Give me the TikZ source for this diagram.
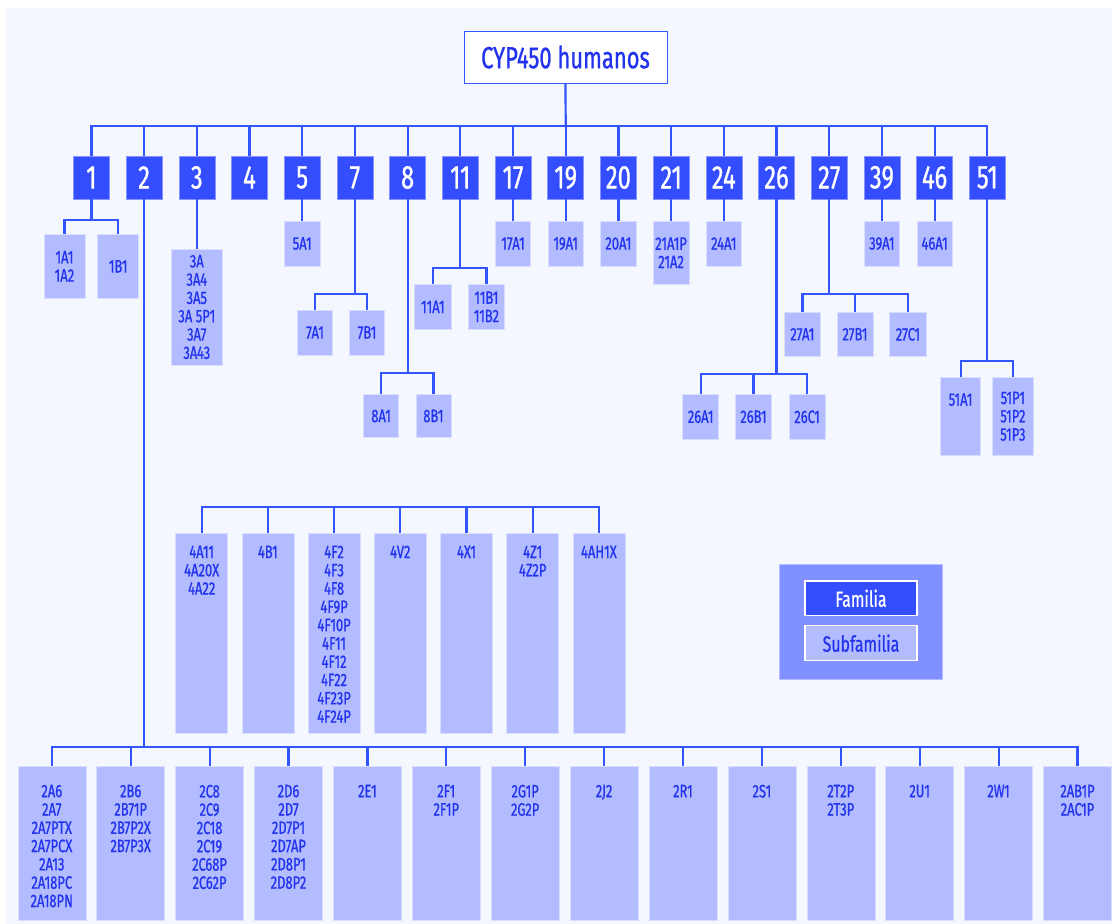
\documentclass[tikz,border=0pt]{standalone}
\usepackage{fontspec}
\setmainfont{Fira Sans}[FakeStretch=0.72, FakeBold=0.8]
\definecolor{pagebg}{RGB}{244,247,254}
\definecolor{famblue}{RGB}{51,77,255}
\definecolor{subblue}{RGB}{178,188,255}
\definecolor{linkblue}{RGB}{51,85,255}
\definecolor{txtblue}{RGB}{34,51,238}
\definecolor{legbg}{RGB}{128,145,255}
\newcommand{\colbox}[4]{\parbox[t][#2][t]{#1}{\centering\vspace*{#3}#4}}

\begin{document}
\begin{tikzpicture}[x=1pt, y=-1pt,
  link/.style={draw=linkblue, line width=2.2pt},
  fam/.style={fill=famblue, draw=famblue!60!white, line width=0.6pt, text=white,
    font=\fontsize{33}{33}\selectfont, minimum width=36pt, minimum height=43pt, inner sep=0pt},
  sub/.style={fill=subblue, draw=subblue!50!white, line width=0.6pt, text=txtblue,
    font=\fontsize{18}{18.3}\selectfont, align=center, inner sep=0pt},
  col/.style={sub, anchor=north}]
  \useasboundingbox (0,0) rectangle (1112,924);
  \fill[white] (0,0) rectangle (1112,924);
  \fill[pagebg] (6,8) rectangle (1112,924);

  % raiz y familias
  \node[draw=linkblue, line width=1pt, fill=white, text=txtblue, font=\fontsize{30.5}{30}\selectfont,
    minimum width=203pt, minimum height=52pt, inner sep=0pt] (root) at (565.5,57) {CYP450 humanos};
  \foreach \n [count=\i from 0] in {1,2,3,4,5,7,8,11,17,19,20,21,24,26,27,39,46,51}
    \node[fam] (f\n) at ({91.4+52.7*\i},177.5) {\n};
  \coordinate (bus) at (565.7,125.7);
  \draw[link] (root.south) -- (bus);
  \draw[link] (f1.north) |- (bus) -| (f51.north);
  \foreach \n in {2,3,4,5,7,8,11,17,19,20,21,24,26,27,39,46}
    \draw[link] (f\n.north) -- (f\n.north |- bus);

  % subfamilias simples
  \foreach \n in {5,17,19,20,24,39,46} {
    \node[sub, minimum width=35.5pt, minimum height=45pt] (s\n) at (f\n |- 0,243.5) {\n A1};
    \draw[link] (f\n.south) -- (s\n.north);
  }
  \node[sub, minimum width=36.4pt, minimum height=63.3pt] (s21) at (f21 |- 0,252.7) {21A1P\\21A2};
  \draw[link] (f21.south) -- (s21.north);
  \node[sub, minimum width=51pt, minimum height=116pt] (s3A) at (f3 |- 0,307) {3A\\3A4\\3A5\\3A 5P1\\3A7\\3A43};
  \draw[link] (f3.south) -- (s3A.north);

  % familia 1
  \node[sub, minimum width=41pt, minimum height=64pt] (s1A) at (64.5,266.3) {1A1\\1A2};
  \node[sub, minimum width=41pt, minimum height=64pt] (s1B) at (118.2,266.3) {1B1};
  \coordinate (j1) at (f1 |- 0,220);
  \draw[link] (f1.south) -- (j1);
  \draw[link] (s1A.north) |- (j1) -| (s1B.north);

  % familia 7
  \node[sub, minimum width=35pt, minimum height=45pt] (s7A) at (315,332.5) {7A1};
  \node[sub, minimum width=35pt, minimum height=45pt] (s7B) at (367,332.5) {7B1};
  \coordinate (j7) at (f7 |- 0,293.7);
  \draw[link] (f7.south) -- (j7);
  \draw[link] (s7A.north) |- (j7) -| (s7B.north);

  % familia 8
  \node[sub, minimum width=35pt, minimum height=43.4pt] (s8A) at (381.1,416) {8A1};
  \node[sub, minimum width=35pt, minimum height=43.4pt] (s8B) at (433.4,416) {8B1};
  \coordinate (j8) at (f8 |- 0,372.7);
  \draw[link] (f8.south) -- (j8);
  \draw[link] (s8A.north) |- (j8) -| (s8B.north);

  % familia 11
  \node[sub, minimum width=37pt, minimum height=45pt] (s11A) at (432.9,306.8) {11A1};
  \node[sub, minimum width=36.4pt, minimum height=45pt] (s11B) at (486.4,306.8) {11B1\\11B2};
  \coordinate (j11) at (f11 |- 0,268.3);
  \draw[link] (f11.south) -- (j11);
  \draw[link] (s11A.north) |- (j11) -| (s11B.north);

  % familia 26
  \node[sub, minimum width=36pt, minimum height=45pt] (s26A) at (700.7,416.8) {26A1};
  \node[sub, minimum width=36pt, minimum height=45pt] (s26B) at (753.5,416.8) {26B1};
  \node[sub, minimum width=36pt, minimum height=45pt] (s26C) at (807.1,416.8) {26C1};
  \coordinate (j26) at (f26 |- 0,374);
  \draw[link] (f26.south) -- (j26);
  \draw[link] (s26A.north) |- (j26) -| (s26C.north);
  \draw[link] (s26B.north) -- (s26B.north |- j26);

  % familia 27
  \node[sub, minimum width=36pt, minimum height=44.7pt] (s27A) at (802.4,334.3) {27A1};
  \node[sub, minimum width=36pt, minimum height=44.7pt] (s27B) at (855,334.3) {27B1};
  \node[sub, minimum width=36.5pt, minimum height=44.7pt] (s27C) at (907.9,334.3) {27C1};
  \coordinate (j27) at (f27 |- 0,293.7);
  \draw[link] (f27.south) -- (j27);
  \draw[link] (s27A.north) |- (j27) -| (s27C.north);
  \draw[link] (s27B.north) -- (s27B.north |- j27);

  % familia 51
  \node[col] (s51A) at (960.6,377.3) {\colbox{40.3pt}{77.7pt}{15.7pt}{51A1}};
  \node[sub, minimum width=40.7pt, minimum height=77.7pt] (s51P) at (1012.9,416.2) {51P1\\51P2\\51P3};
  \coordinate (j51) at (f51 |- 0,361);
  \draw[link] (f51.south) -- (j51);
  \draw[link] (s51A.north) |- (j51) -| (s51P.north);

  % grupo 4
  \foreach \nm/\txt [count=\i from 0] in {4A/{4A11\\4A20X\\4A22}, 4B/4B1,
      4F/{4F2\\4F3\\4F8\\4F9P\\4F10P\\4F11\\4F12\\4F22\\4F23P\\4F24P},
      4V/4V2, 4X/4X1, 4Z/{4Z1\\4Z2P}, 4AH/4AH1X}
    \node[col] (g\nm) at ({201.7+66.2*\i},533.3) {\colbox{52pt}{200pt}{12pt}{\txt}};
  \coordinate (bus4) at (400.3,506.7);
  \draw[link] (g4A.north) |- (bus4) -| (g4AH.north);
  \foreach \nm in {4B,4F,4V,4X,4Z}
    \draw[link] (g\nm.north) -- (g\nm.north |- bus4);

  % familia 2
  \foreach \nm/\txt [count=\i from 0] in {2A/{2A6\\2A7\\2A7PTX\\2A7PCX\\2A13\\2A18PC\\2A18PN},
      2B/{2B6\\2B71P\\2B7P2X\\2B7P3X}, 2C/{2C8\\2C9\\2C18\\2C19\\2C68P\\2C62P},
      2D/{2D6\\2D7\\2D7P1\\2D7AP\\2D8P1\\2D8P2}, 2E/2E1, 2F/{2F1\\2F1P}, 2G/{2G1P\\2G2P},
      2J/2J2, 2R/2R1, 2S/2S1, 2T/{2T2P\\2T3P}, 2U/2U1, 2W/2W1, 2AB/{2AB1P\\2AC1P}}
    \node[col] (b\nm) at ({51.8+78.9*\i},765.7) {\colbox{68pt}{154.6pt}{18.8pt}{\txt}};
  \coordinate (bus2) at (f2 |- 0,747);
  \draw[link] (f2.south) -- (bus2);
  \draw[link] (b2A.north) |- (bus2) -| (b2AB.north);
  \foreach \nm in {2B,2C,2D,2E,2F,2G,2J,2R,2S,2T,2U,2W}
    \draw[link] (b\nm.north) -- (b\nm.north |- bus2);

  % leyenda
  \node[fill=legbg, draw=legbg!60!white, line width=0.8pt, minimum width=162.6pt,
    minimum height=115pt, inner sep=0pt] (legend) at (861,621.5) {};
  \node[fill=famblue, draw=white, line width=1.2pt, text=white, font=\fontsize{22}{22}\selectfont,
    minimum width=112pt, minimum height=34.7pt, inner sep=0pt] (legfam) at (861,598.3) {Familia};
  \node[fill=subblue, draw=white, line width=1.2pt, text=txtblue, font=\fontsize{22}{22}\selectfont,
    minimum width=112pt, minimum height=34.7pt, inner sep=0pt] (legsub) at (861,643.2) {Subfamilia};
\end{tikzpicture}
\end{document}
